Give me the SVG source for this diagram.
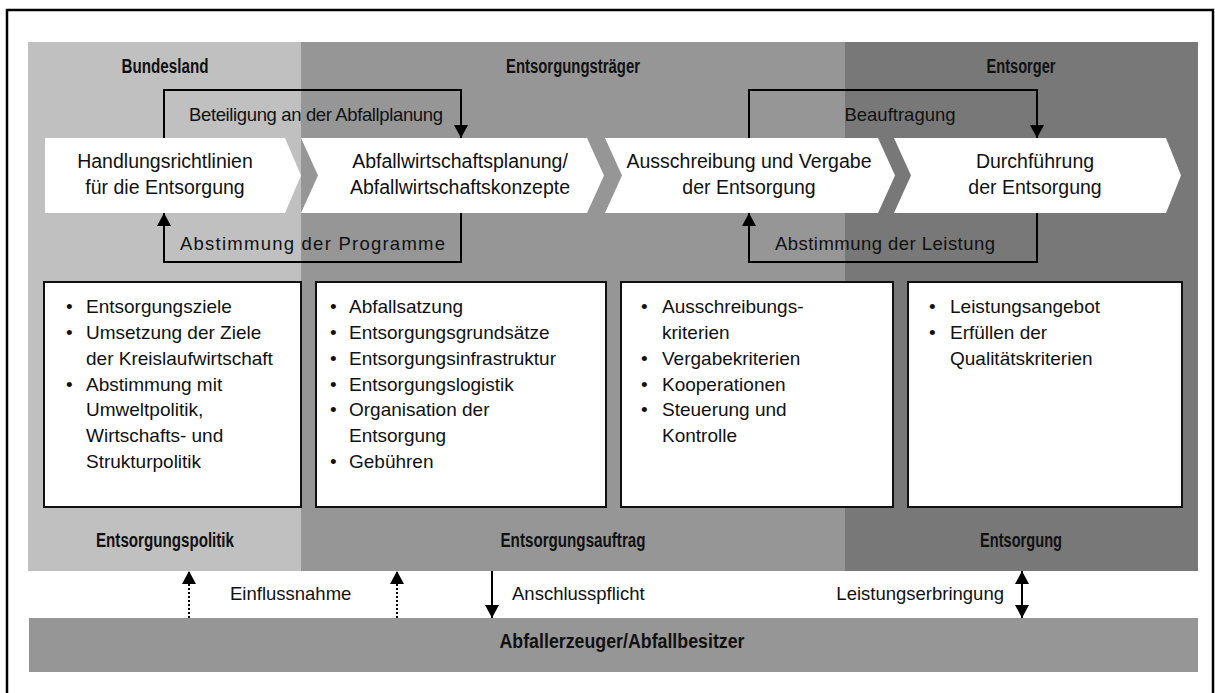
<svg xmlns="http://www.w3.org/2000/svg" width="1215" height="693" viewBox="0 0 1215 693">
<defs>
<style>
.t{font-family:"Liberation Sans",Arial,sans-serif;fill:#111;}
.ch{font-size:19.5px;text-anchor:middle;}
.lb{font-size:18.5px;}
.bx{font-size:19px;}
.hd{font-family:"Liberation Sans",Arial,sans-serif;font-weight:bold;font-size:20px;text-anchor:middle;fill:#111;}
.box{fill:#fff;stroke:#111;stroke-width:2;}
.chev{fill:#fff;}
.con{fill:none;stroke:#000;stroke-width:2;}
.dot{stroke-dasharray:2,2;}
</style>
<marker id="ah" markerWidth="13" markerHeight="14" refX="13" refY="7" orient="auto-start-reverse" markerUnits="userSpaceOnUse">
<path d="M0,0 L13,7 L0,14 Z" fill="#000"/>
</marker>
</defs>
<rect x="0" y="0" width="1215" height="693" fill="#fff"/>
<rect x="7" y="10" width="1206" height="700" fill="none" stroke="#000" stroke-width="2.5"/>
<g id="bands">
<rect x="28" y="42" width="273" height="529" fill="#c0c0c0"/>
<rect x="301" y="42" width="544" height="529" fill="#969696"/>
<rect x="845" y="42" width="353" height="529" fill="#787878"/>
<rect x="29" y="618" width="1169" height="54" fill="#969696"/>
</g>
<g id="headers">
<text class="hd" x="165" y="73" textLength="87" lengthAdjust="spacingAndGlyphs">Bundesland</text>
<text class="hd" x="573" y="73" textLength="134" lengthAdjust="spacingAndGlyphs">Entsorgungsträger</text>
<text class="hd" x="1021" y="73" textLength="69" lengthAdjust="spacingAndGlyphs">Entsorger</text>
<text class="hd" x="165" y="547" textLength="138" lengthAdjust="spacingAndGlyphs">Entsorgungspolitik</text>
<text class="hd" x="573" y="547" textLength="145" lengthAdjust="spacingAndGlyphs">Entsorgungsauftrag</text>
<text class="hd" x="1021" y="547" textLength="82" lengthAdjust="spacingAndGlyphs">Entsorgung</text>
</g>
<g id="node-abfallerzeuger">
<text class="hd" x="622" y="648" textLength="245" lengthAdjust="spacingAndGlyphs">Abfallerzeuger/Abfallbesitzer</text>
</g>
<g id="node-handlungsrichtlinien">
<path class="chev" d="M45,138 H285 L301,175.5 L285,213 H45 Z"/>
<text class="t ch" x="165" y="168">Handlungsrichtlinien</text>
<text class="t ch" x="165" y="194">für die Entsorgung</text>
</g>
<g id="node-planung">
<path class="chev" d="M301,138 H587 L604,175.5 L587,213 H301 L318,175.5 Z"/>
<text class="t ch" x="460" y="168">Abfallwirtschaftsplanung/</text>
<text class="t ch" x="460" y="194">Abfallwirtschaftskonzepte</text>
</g>
<g id="node-ausschreibung">
<path class="chev" d="M605,138 H878 L895,175.5 L878,213 H605 L622,175.5 Z"/>
<text class="t ch" x="749" y="168">Ausschreibung und Vergabe</text>
<text class="t ch" x="749" y="194">der Entsorgung</text>
</g>
<g id="node-durchfuehrung">
<path class="chev" d="M894,138 H1166 L1181,175.5 L1166,213 H894 L911,175.5 Z"/>
<text class="t ch" x="1035" y="168">Durchführung</text>
<text class="t ch" x="1035" y="194">der Entsorgung</text>
</g>
<g id="box-politik">
<rect class="box" x="44" y="282" width="257" height="225"/>
<g class="t bx">
<text x="66" y="313">•</text><text x="86" y="313">Entsorgungsziele</text>
<text x="66" y="339">•</text><text x="86" y="339">Umsetzung der Ziele</text>
<text x="86" y="365">der Kreislaufwirtschaft</text>
<text x="66" y="391">•</text><text x="86" y="391">Abstimmung mit</text>
<text x="86" y="416">Umweltpolitik,</text>
<text x="86" y="442">Wirtschafts- und</text>
<text x="86" y="468">Strukturpolitik</text>
</g>
</g>
<g id="box-auftrag">
<rect class="box" x="316" y="282" width="290" height="225"/>
<g class="t bx">
<text x="330" y="313">•</text><text x="349" y="313">Abfallsatzung</text>
<text x="330" y="339">•</text><text x="349" y="339">Entsorgungsgrundsätze</text>
<text x="330" y="365">•</text><text x="349" y="365">Entsorgungsinfrastruktur</text>
<text x="330" y="391">•</text><text x="349" y="391">Entsorgungslogistik</text>
<text x="330" y="416">•</text><text x="349" y="416">Organisation der</text>
<text x="349" y="442">Entsorgung</text>
<text x="330" y="468">•</text><text x="349" y="468">Gebühren</text>
</g>
</g>
<g id="box-vergabe">
<rect class="box" x="621" y="282" width="272" height="225"/>
<g class="t bx">
<text x="641" y="313">•</text><text x="662" y="313">Ausschreibungs-</text>
<text x="662" y="339">kriterien</text>
<text x="641" y="365">•</text><text x="662" y="365">Vergabekriterien</text>
<text x="641" y="391">•</text><text x="662" y="391">Kooperationen</text>
<text x="641" y="416">•</text><text x="662" y="416">Steuerung und</text>
<text x="662" y="442">Kontrolle</text>
</g>
</g>
<g id="box-entsorgung">
<rect class="box" x="908" y="282" width="274" height="225"/>
<g class="t bx">
<text x="929" y="313">•</text><text x="950" y="313">Leistungsangebot</text>
<text x="929" y="339">•</text><text x="950" y="339">Erfüllen der</text>
<text x="950" y="365">Qualitätskriterien</text>
</g>
</g>
<g id="connectors">
<path class="con" d="M164,138 V90 H461 V138" marker-end="url(#ah)"/>
<path class="con" d="M461,213 V262 H164 V213" marker-end="url(#ah)"/>
<path class="con" d="M749,138 V90 H1037 V138" marker-end="url(#ah)"/>
<path class="con" d="M1037,213 V262 H749 V213" marker-end="url(#ah)"/>
<path class="con dot" d="M189,618 V571" marker-end="url(#ah)"/>
<path class="con dot" d="M397,618 V571" marker-end="url(#ah)"/>
<path class="con" d="M492,571 V618" marker-end="url(#ah)"/>
<path class="con" d="M1022,571 V618" marker-start="url(#ah)" marker-end="url(#ah)"/>
<g class="t lb">
<text x="189" y="121" textLength="254" lengthAdjust="spacing">Beteiligung an der Abfallplanung</text>
<text x="900" y="121" text-anchor="middle">Beauftragung</text>
<text x="180" y="250" textLength="265" lengthAdjust="spacing">Abstimmung der Programme</text>
<text x="775" y="250" textLength="220" lengthAdjust="spacing">Abstimmung der Leistung</text>
<text x="230" y="600">Einflussnahme</text>
<text x="512" y="600">Anschlusspflicht</text>
<text x="1004" y="600" text-anchor="end">Leistungserbringung</text>
</g>
</g>
</svg>
